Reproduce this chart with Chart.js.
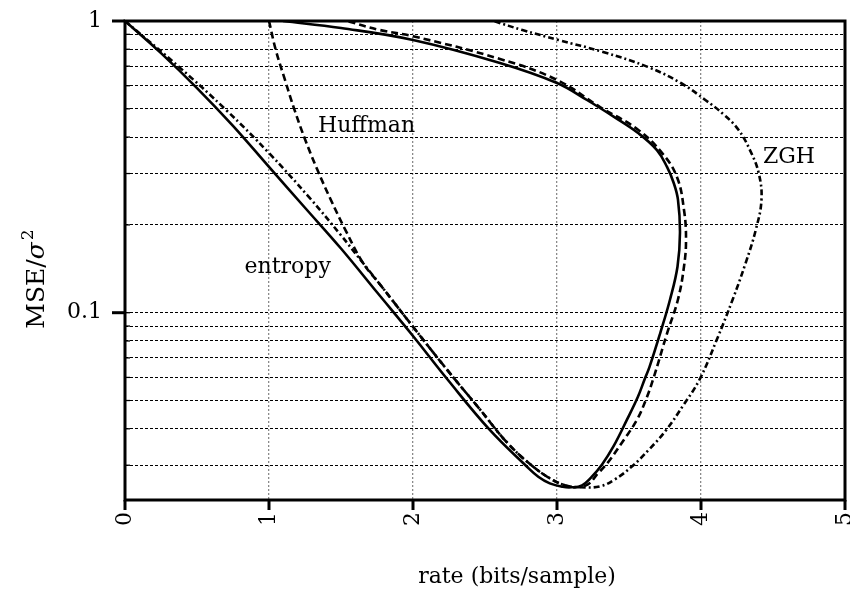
<!DOCTYPE html>
<html>
<head>
<meta charset="utf-8">
<script src="https://cdn.jsdelivr.net/npm/chart.js@4.4.1/dist/chart.umd.min.js"></script>
<style>
  html, body { margin: 0; padding: 0; background: #ffffff; }
</style>
</head>
<body>
<canvas id="RdChart" width="850" height="590"></canvas>
<script>
Chart.defaults.font.family = '"DejaVu Serif", serif';
Chart.defaults.color = '#000000';

// ---- data (rate in bits/sample, MSE/sigma^2), each curve in drawing order ----
var EntropyRate = [0, 0.25, 0.5, 0.75, 1.0, 1.25, 1.5, 1.75, 2.0, 2.24, 2.53, 2.79, 2.87, 2.95, 3.04, 3.10,
    3.174, 3.236, 3.313, 3.392, 3.486, 3.562, 3.608, 3.643, 3.718, 3.785, 3.837, 3.854, 3.84, 3.81, 3.764,
    3.694, 3.563, 3.396, 3.208, 3.0, 2.604, 2.0, 1.5, 1.097]
var EntropyMse = [1, 0.776, 0.589, 0.437, 0.316, 0.229, 0.166, 0.1175, 0.0832, 0.059, 0.0398, 0.0297, 0.0274, 0.0260, 0.0253, 0.0252,
    0.0256, 0.0272, 0.0302, 0.0348, 0.0430, 0.0515, 0.0590, 0.0653, 0.0855, 0.111, 0.144, 0.188, 0.244, 0.279, 0.316,
    0.361, 0.413, 0.469, 0.536, 0.613, 0.718, 0.861, 0.946, 1.0]

var HuffmanRate = [1.0, 1.047, 1.111, 1.177, 1.252, 1.336, 1.429, 1.531, 1.653, 1.771, 2.0, 2.236, 2.465, 2.653, 2.833, 2.965, 3.056,
    3.125, 3.215, 3.278, 3.352, 3.465, 3.556, 3.618, 3.667, 3.766, 3.84, 3.882, 3.896, 3.882, 3.833, 3.729,
    3.563, 3.299, 3.0, 2.604, 2.0, 1.771, 1.542]
var HuffmanMse = [1.0, 0.796, 0.628, 0.496, 0.391, 0.309, 0.244, 0.192, 0.148, 0.125, 0.0895, 0.0638, 0.0466, 0.0359, 0.0297, 0.0268, 0.0256,
    0.0252, 0.0258, 0.0279, 0.0306, 0.0367, 0.0430, 0.0504, 0.0590, 0.0855, 0.111, 0.144, 0.178, 0.225, 0.292, 0.353,
    0.424, 0.507, 0.628, 0.741, 0.887, 0.931, 1.0]

var ZghRate = [0, 0.375, 0.701, 0.999, 1.281, 1.497, 1.653, 1.771, 2.0, 2.236, 2.465, 2.653, 2.833, 2.965, 3.056, 3.16,
    3.30, 3.40, 3.52, 3.64, 3.76, 3.88, 3.99, 4.11, 4.22, 4.31, 4.38, 4.42, 4.40, 4.34, 4.26, 4.16, 4.03,
    3.86, 3.63, 3.32, 3.01, 2.76, 2.56]
var ZghMse = [1, 0.696, 0.496, 0.353, 0.248, 0.185, 0.148, 0.125, 0.0895, 0.0638, 0.0466, 0.0359, 0.0297, 0.0268, 0.0256, 0.0252,
    0.0254, 0.0268, 0.0297, 0.0340, 0.0397, 0.0484, 0.0590, 0.0809, 0.111, 0.148, 0.192, 0.244, 0.302, 0.361, 0.424, 0.477, 0.536,
    0.613, 0.696, 0.783, 0.861, 0.931, 1.0]

var XTickValues = [0, 1, 2, 3, 4, 5]
var YGridValues = [0.03, 0.04, 0.05, 0.06, 0.07, 0.08, 0.09, 0.1, 0.2, 0.3, 0.4, 0.5, 0.6, 0.7, 0.8, 0.9, 1]
var YMajorValues = [0.1, 1]
var YMajorLabels = ['0.1', '1']

var CurveNames = ['Huffman', 'entropy', 'ZGH']
var CurveNameRate = [1.34, 0.83, 4.43]
var CurveNameMse = [0.417, 0.137, 0.327]

function toPoints(xs, ys) {
    var pts = []
    for (var i = 0; i < xs.length; i++) pts.push({ x: xs[i], y: ys[i] })
    return pts
}

function curve(xs, ys, dash) {
    return {
        data: toPoints(xs, ys),
        showLine: true,
        borderColor: '#000000',
        borderWidth: 2.6,
        borderDash: dash,
        pointRadius: 0,
        tension: 0.4,
        fill: false
    }
}

var FrameAndLabels = {
    id: 'FrameAndLabels',
    afterDraw: function (chart) {
        var ctx = chart.ctx
        var a = chart.chartArea
        var xs = chart.scales.x, ys = chart.scales.y

        function seg(x1, y1, x2, y2) {
            ctx.beginPath(); ctx.moveTo(x1, y1); ctx.lineTo(x2, y2); ctx.stroke()
        }

        ctx.save()
        ctx.strokeStyle = '#000000'
        ctx.setLineDash([])
        ctx.lineWidth = 3
        ctx.strokeRect(a.left, a.top, a.right - a.left, a.bottom - a.top)

        for (var i = 0; i < XTickValues.length; i++) {
            var px = xs.getPixelForValue(XTickValues[i])
            seg(px, a.bottom, px, a.bottom + 10)
        }
        for (var j = 0; j < YMajorValues.length; j++) {
            var py = ys.getPixelForValue(YMajorValues[j])
            seg(a.left - 13, py, a.left, py)
        }
        ctx.lineWidth = 1.3
        for (var k = 0; k < YGridValues.length; k++) {
            var qy = ys.getPixelForValue(YGridValues[k])
            seg(a.left, qy, a.left + 5, qy)
        }

        // curve names
        ctx.fillStyle = '#000000'
        ctx.font = '22px "DejaVu Serif"'
        ctx.textAlign = 'left'
        ctx.textBaseline = 'alphabetic'
        for (var n = 0; n < CurveNames.length; n++) {
            ctx.fillText(CurveNames[n], xs.getPixelForValue(CurveNameRate[n]), ys.getPixelForValue(CurveNameMse[n]))
        }

        // x axis title
        ctx.textAlign = 'center'
        ctx.textBaseline = 'middle'
        ctx.fillText('rate (bits/sample)', 517, 577)

        // y axis title: MSE/sigma^2
        ctx.translate(44, 279)
        ctx.rotate(-Math.PI / 2)
        ctx.textAlign = 'left'
        ctx.textBaseline = 'alphabetic'
        ctx.font = '25px "DejaVu Serif"'
        var w1 = ctx.measureText('MSE/').width
        ctx.font = 'italic 25px "DejaVu Serif"'
        var w2 = ctx.measureText('σ').width
        ctx.font = '17px "DejaVu Serif"'
        var w3 = ctx.measureText('2').width
        var start = -(w1 + w2 + w3 + 2) / 2
        ctx.font = '25px "DejaVu Serif"'
        ctx.fillText('MSE/', start, 0)
        ctx.font = 'italic 25px "DejaVu Serif"'
        ctx.fillText('σ', start + w1, 0)
        ctx.font = '17px "DejaVu Serif"'
        ctx.fillText('2', start + w1 + w2 + 2, -11)
        ctx.restore()
    }
}

var RdChartElement = document.getElementById('RdChart').getContext('2d')
var RdChart = new Chart(RdChartElement, {
    type: 'scatter',
    data: {
        datasets: [
            curve(EntropyRate, EntropyMse, []),
            curve(HuffmanRate, HuffmanMse, [7, 4]),
            curve(ZghRate, ZghMse, [6, 3, 2, 3])
        ]
    },
    plugins: [FrameAndLabels],
    options: {
        responsive: false,
        animation: false,
        layout: { padding: { top: 21, right: 5, left: 0, bottom: 0 } },
        plugins: {
            legend: { display: false },
            tooltip: { enabled: false }
        },
        scales: {
            x: {
                type: 'linear',
                min: 0,
                max: 5,
                afterFit: function (s) { s.height = 90; s.paddingLeft = 0; s.paddingRight = 0 },
                afterBuildTicks: function (s) { s.ticks = XTickValues.map(function (v) { return { value: v } }) },
                ticks: {
                    minRotation: 90,
                    maxRotation: 90,
                    padding: 12,
                    font: { size: 22 },
                    callback: function (v) { return String(v) }
                },
                grid: {
                    drawTicks: false,
                    lineWidth: 1.3,
                    color: function (c) {
                        if (c.tick && (c.tick.value === 0 || c.tick.value === 5)) return 'rgba(0,0,0,0)'
                        return '#8a8a8a'
                    }
                },
                border: { display: false, dash: [2, 2] }
            },
            y: {
                type: 'logarithmic',
                min: 0.0228,
                max: 1,
                afterFit: function (s) { s.width = 125; s.paddingTop = 0; s.paddingBottom = 0 },
                afterBuildTicks: function (s) { s.ticks = YGridValues.map(function (v) { return { value: v } }) },
                ticks: {
                    padding: 23,
                    autoSkip: false,
                    font: { size: 22 },
                    callback: function (v) {
                        var idx = YMajorValues.indexOf(v)
                        return idx >= 0 ? YMajorLabels[idx] : ''
                    }
                },
                grid: {
                    drawTicks: false,
                    lineWidth: 1,
                    color: '#000000'
                },
                border: { display: false, dash: [3, 2] }
            }
        }
    }
})
</script>
</body>
</html>
